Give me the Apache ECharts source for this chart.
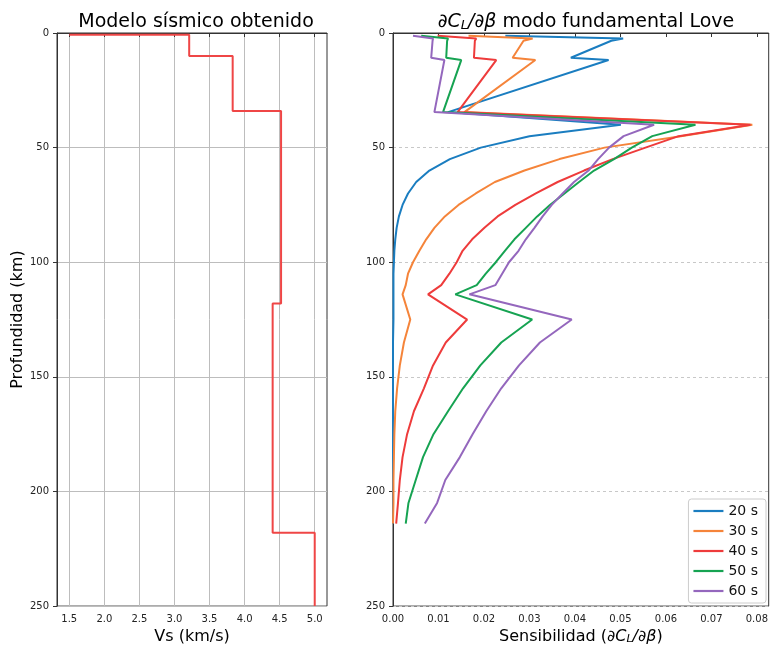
<!DOCTYPE html>
<html>
<head>
<meta charset="utf-8">
<script src="https://cdn.jsdelivr.net/npm/echarts/dist/echarts.min.js"></script>
<style>
html, body { margin: 0; padding: 0; background: #fff; }
#main { width: 771px; height: 650px; }
</style>
</head>
<body>
<div id="main"></div>
<script>
// modelo de velocidades (capas)
var vsSurface = 1.5;
var layerTop = [0.8, 10, 34, 118, 218];
var layerVs = [3.21, 3.83, 4.52, 4.40, 5.00];
var maxDepth = 250;

// nodos de profundidad de los nucleos de sensibilidad (km)
var depthNodes = [1.2, 2.4, 3.4, 10.8, 11.8, 34.5, 40, 45, 50, 55, 60, 65, 70, 75, 80, 85, 90, 95, 100, 105, 110, 114, 125, 135, 145, 155, 165, 175, 185, 195, 205, 214];
var periods = ['20 s', '30 s', '40 s', '50 s', '60 s'];
var k20 = [0.0247, 0.0506, 0.0480, 0.0391, 0.0474, 0.0121, 0.0501, 0.0300, 0.0193, 0.0125, 0.0080, 0.0051, 0.0033, 0.0021, 0.0013, 0.0008, 0.0005, 0.0003, 0.0002, 0.0001, 0.0001, 0.0001, 0.0001, 0, 0, 0, 0, 0, 0, 0, 0, 0];
var k30 = [0.0166, 0.0307, 0.0287, 0.0263, 0.0313, 0.0157, 0.0790, 0.0633, 0.0465, 0.0366, 0.0289, 0.0224, 0.0182, 0.0144, 0.0114, 0.0091, 0.0073, 0.0058, 0.0044, 0.0033, 0.0028, 0.0021, 0.0038, 0.0024, 0.0015, 0.0009, 0.0005, 0.0003, 0.0002, 0.0001, 0.0001, 0.0000];
var k40 = [0.0098, 0.0183, 0.0180, 0.0178, 0.0227, 0.0142, 0.0786, 0.0628, 0.0555, 0.0483, 0.0420, 0.0362, 0.0314, 0.0269, 0.0230, 0.0201, 0.0174, 0.0153, 0.0140, 0.0124, 0.0106, 0.0077, 0.0163, 0.0116, 0.0088, 0.0068, 0.0046, 0.0031, 0.0021, 0.0015, 0.0011, 0.0007];
var k50 = [0.0062, 0.0121, 0.0119, 0.0117, 0.0150, 0.0110, 0.0665, 0.0570, 0.0525, 0.0486, 0.0442, 0.0409, 0.0377, 0.0345, 0.0317, 0.0292, 0.0267, 0.0246, 0.0226, 0.0204, 0.0184, 0.0137, 0.0306, 0.0238, 0.0192, 0.0154, 0.0121, 0.0089, 0.0066, 0.0050, 0.0034, 0.0028];
var k60 = [0.0044, 0.0088, 0.0087, 0.0084, 0.0113, 0.0091, 0.0574, 0.0507, 0.0475, 0.0451, 0.0430, 0.0398, 0.0373, 0.0349, 0.0329, 0.0311, 0.0292, 0.0276, 0.0255, 0.0240, 0.0225, 0.0168, 0.0393, 0.0323, 0.0277, 0.0238, 0.0205, 0.0175, 0.0147, 0.0115, 0.0097, 0.0070];
var kernels = [k20, k30, k40, k50, k60];

var vsTicks = [1.5, 2.0, 2.5, 3.0, 3.5, 4.0, 4.5, 5.0];
var sensTicks = [0, 0.01, 0.02, 0.03, 0.04, 0.05, 0.06, 0.07, 0.08];

var colors = ['#1a7dc0', '#f5843a', '#ee3b3b', '#16a352', '#9467bd'];
var font = 'DejaVu Sans';

// perfil escalonado
var profile = [[vsSurface, layerTop[0]]];
for (var i = 0; i < layerTop.length; i++) {
    var bottom = i + 1 < layerTop.length ? layerTop[i + 1] : maxDepth;
    profile.push([layerVs[i], layerTop[i]]);
    profile.push([layerVs[i], bottom]);
}

var series = [{
    name: 'perfil',
    type: 'line',
    xAxisIndex: 0,
    yAxisIndex: 0,
    data: profile,
    symbol: 'none',
    lineStyle: { color: '#ef4646', width: 2 },
    itemStyle: { color: '#ef4646' },
    animation: false
}];
for (var j = 0; j < periods.length; j++) {
    var pts = [];
    for (var k = 0; k < depthNodes.length; k++) {
        pts.push([kernels[j][k], depthNodes[k]]);
    }
    series.push({
        name: periods[j],
        type: 'line',
        xAxisIndex: 1,
        yAxisIndex: 1,
        data: pts,
        symbol: 'none',
        lineStyle: { color: colors[j], width: 2 },
        itemStyle: { color: colors[j] },
        animation: false
    });
}

var tickLabel = { fontFamily: font, fontSize: 10, color: '#222', margin: 8 };
var axisLine = { show: true, lineStyle: { color: '#333', width: 1 } };
var axisTick = { show: true, length: 4, lineStyle: { color: '#333' } };

var myChart = echarts.init(document.getElementById('main'), null, { renderer: 'canvas' });
var option = {
    animation: false,
    backgroundColor: '#fff',
    title: [{
        text: 'Modelo sísmico obtenido',
        left: 191,
        top: 8,
        textAlign: 'center',
        textStyle: { fontFamily: font, fontSize: 19, fontWeight: 'normal', color: '#000' }
    }, {
        text: '{i|∂C}{s|L}{i|/∂β} modo fundamental Love',
        left: 581,
        top: 8,
        textAlign: 'center',
        textStyle: {
            fontFamily: font, fontSize: 19, fontWeight: 'normal', color: '#000',
            rich: {
                i: { fontFamily: font, fontSize: 19, fontStyle: 'italic', color: '#000' },
                s: { fontFamily: font, fontSize: 13, fontStyle: 'italic', color: '#000', verticalAlign: 'bottom', padding: [6, 0, 0, 0] }
            }
        }
    }],
    legend: {
        data: periods,
        orient: 'vertical',
        right: 5,
        bottom: 47,
        padding: [5, 8, 5, 5],
        itemGap: 6,
        itemWidth: 30,
        itemHeight: 14,
        icon: 'path://M0,0 L30,0 L30,2.2 L0,2.2 Z',
        backgroundColor: '#fff',
        borderColor: '#ccc',
        borderWidth: 1,
        borderRadius: 3,
        textStyle: { fontFamily: font, fontSize: 14, color: '#111' }
    },
    grid: [
        { left: 57, top: 33, width: 270, height: 577, show: true, borderColor: '#333', borderWidth: 1, backgroundColor: 'transparent' },
        { left: 393, top: 33, width: 376, height: 577, show: true, borderColor: '#333', borderWidth: 1, backgroundColor: 'transparent' }
    ],
    xAxis: [{
        gridIndex: 0,
        type: 'value',
        min: 1.325,
        max: 5.175,
        name: 'Vs (km/s)',
        nameLocation: 'middle',
        nameGap: 20,
        nameTextStyle: { fontFamily: font, fontSize: 16, color: '#000' },
        axisLine: axisLine,
        axisTick: { show: true, length: 4, lineStyle: { color: '#333' }, customValues: vsTicks },
        axisLabel: Object.assign({ customValues: vsTicks, formatter: function (v) { return v.toFixed(1); } }, tickLabel),
        splitLine: { show: true, lineStyle: { color: '#bdbdbd', width: 1 } }
    }, {
        gridIndex: 1,
        type: 'value',
        min: 0,
        max: 0.0826,
        name: '{t|Sensibilidad (}{i|∂C}{s|L}{i|/∂β}{t|)}',
        nameLocation: 'middle',
        nameGap: 20,
        nameTextStyle: {
            fontFamily: font, fontSize: 16, color: '#000',
            rich: {
                t: { fontFamily: font, fontSize: 16, color: '#000' },
                i: { fontFamily: font, fontSize: 16, fontStyle: 'italic', color: '#000' },
                s: { fontFamily: font, fontSize: 11, fontStyle: 'italic', color: '#000', verticalAlign: 'bottom', padding: [5, 0, 0, 0] }
            }
        },
        axisLine: axisLine,
        axisTick: { show: true, length: 4, lineStyle: { color: '#333' }, customValues: sensTicks },
        axisLabel: Object.assign({ customValues: sensTicks, formatter: function (v) { return v.toFixed(2); } }, tickLabel),
        splitLine: { show: false }
    }],
    yAxis: [{
        gridIndex: 0,
        type: 'value',
        inverse: true,
        min: 0,
        max: maxDepth,
        interval: 50,
        name: 'Profundidad (km)',
        nameLocation: 'middle',
        nameGap: 30,
        nameTextStyle: { fontFamily: font, fontSize: 16, color: '#000' },
        axisLine: axisLine,
        axisTick: axisTick,
        axisLabel: tickLabel,
        splitLine: { show: true, lineStyle: { color: '#bdbdbd', width: 1 } }
    }, {
        gridIndex: 1,
        type: 'value',
        inverse: true,
        min: 0,
        max: maxDepth,
        interval: 50,
        axisLine: axisLine,
        axisTick: axisTick,
        axisLabel: tickLabel,
        splitLine: { show: true, lineStyle: { color: '#c8c8c8', width: 1, type: [3, 3] } }
    }],
    series: series
};
if (option && typeof option === 'object') {
    myChart.setOption(option, true);
}
</script>
</body>
</html>
